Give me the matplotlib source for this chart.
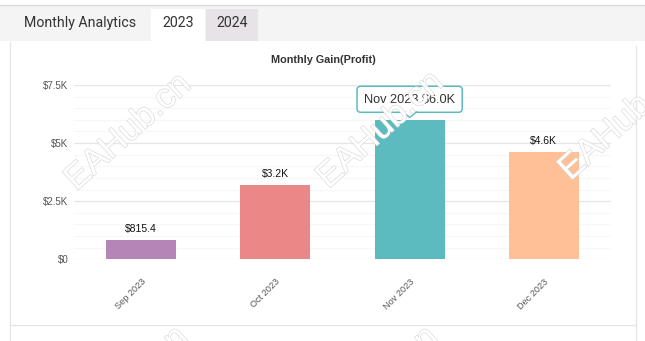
import matplotlib
matplotlib.use("Agg")
import matplotlib.pyplot as plt
import matplotlib.patheffects as pe
from matplotlib.patches import Rectangle, Polygon
from matplotlib.lines import Line2D
from matplotlib.transforms import ScaledTranslation

months = ["Sep 2023", "Oct 2023", "Nov 2023", "Dec 2023"]
gains = [815.4, 3200, 6000, 4600]
value_labels = ["$815.4", "$3.2K", None, "$4.6K"]
tooltip_text = "Nov 2023,$6.0K"
bar_colors = ["#b685b7", "#e98886", "#5bbbbf", "#ffc097"]
yticks = [0, 2500, 5000, 7500]
ytick_labels = ["$0", "$2.5K", "$5K", "$7.5K"]
tabs = ["Monthly Analytics", "2023", "2024"]

plt.rcParams["font.family"] = ["Liberation Sans", "DejaVu Sans"]

W, H = 645, 341
fig = plt.figure(figsize=(W / 100, H / 100), dpi=100)
fig.patch.set_facecolor("white")

def fx(px):
    return px / W

def fy(py):
    return 1 - py / H

# Tab bar
fig.patches.append(Rectangle((0, fy(41)), 1, fy(5) - fy(41), transform=fig.transFigure,
                             facecolor="#f4f4f4", edgecolor="none", zorder=0))
fig.lines.append(Line2D([0, 1], [fy(4.5), fy(4.5)], transform=fig.transFigure, color="#dcdcdc", lw=1))
fig.patches.append(Rectangle((fx(151), fy(41)), fx(205) - fx(151), fy(9) - fy(41), transform=fig.transFigure,
                             facecolor="white", edgecolor="none", zorder=1))
fig.patches.append(Rectangle((fx(206), fy(41)), fx(258) - fx(206), fy(9) - fy(41), transform=fig.transFigure,
                             facecolor="#e8e3e7", edgecolor="none", zorder=1))
fig.text(fx(24), fy(23), tabs[0], fontsize=10.2, color="#333333", va="center", ha="left", family="Roboto")
fig.text(fx(178), fy(23), tabs[1], fontsize=10.2, color="#333333", va="center", ha="center", family="Roboto")
fig.text(fx(232), fy(23), tabs[2], fontsize=10.2, color="#333333", va="center", ha="center", family="Roboto")

# Card borders
fig.lines.append(Line2D([fx(10), fx(10)], [fy(42), 0], transform=fig.transFigure, color="#e6e6e6", lw=1))
fig.lines.append(Line2D([fx(636), fx(636)], [fy(46), 0], transform=fig.transFigure, color="#e6e6e6", lw=1))
fig.lines.append(Line2D([fx(10), fx(636)], [fy(325), fy(325)], transform=fig.transFigure, color="#e6e6e6", lw=1))

# Axes
ax = fig.add_axes([fx(74), fy(259.3), fx(611) - fx(74), fy(85) - fy(259.3)])
ax.set_facecolor("none")
x = list(range(len(months)))
bars = ax.bar(x, gains, width=0.52, color=bar_colors, zorder=3)
ax.set_xlim(-0.5, len(months) - 0.5)
ax.set_ylim(0, 7500)
ax.set_yticks(yticks)
ax.set_yticklabels(ytick_labels)
ax.set_yticks([v for v in range(500, 7500, 500) if v % 2500], minor=True)
ax.grid(axis="y", which="major", color="#e6e6e6", lw=0.9, zorder=0)
ax.grid(axis="y", which="minor", color="#f7f7f7", lw=0.8, zorder=0)
ax.tick_params(axis="y", which="both", length=0, pad=4, labelsize=7, labelcolor="#555555")
ax.set_xticks(x)
ax.set_xticklabels(months, rotation=45, ha="right", rotation_mode="anchor")
ax.tick_params(axis="x", length=0, pad=13, labelsize=6.6, labelcolor="#555555")
for s in ax.spines.values():
    s.set_visible(False)

for xi, g, lab in zip(x, gains, value_labels):
    if lab:
        ax.annotate(lab, (xi, g), xytext=(0, 4.5), textcoords="offset points", ha="center", va="bottom",
                    fontsize=7.5, color="#111111")

fig.text(fx(323), fy(60), "Monthly Gain(Profit)", fontsize=7.8, fontweight="bold", color="#333333",
         ha="center", va="center")

# Tooltip for Nov
ti = months.index("Nov 2023")
ax.annotate(tooltip_text, (ti, gains[ti]), xytext=(0, 10.5), textcoords="offset points",
            ha="center", va="bottom", fontsize=9.2, color="#333333",
            bbox=dict(boxstyle="round,pad=0.55,rounding_size=0.3", fc="white", ec="#5bbbbf", lw=1.1),
            zorder=6)
ptr = fig.dpi_scale_trans + ScaledTranslation(ti, gains[ti], ax.transData)
tip = [(-5 / 72, 5.6 / 72), (0, 1.8 / 72), (5 / 72, 5.6 / 72)]
ax.add_patch(Polygon(tip + [(0, 6.6 / 72)], closed=True, transform=ptr, fc="white", ec="none", zorder=7,
                     clip_on=False))
ax.add_line(Line2D([p[0] for p in tip], [p[1] for p in tip], transform=ptr, color="#5bbbbf", lw=1.0,
                   zorder=8, clip_on=False))

# Watermarks
wm_style = dict(fontsize=25, color="white", rotation=42, ha="center", va="center",
                path_effects=[pe.withStroke(linewidth=0.9, foreground="#d8d8d8")], zorder=10)
fig.text(fx(128), fy(132), "EAHub.cn", **wm_style)
fig.text(fx(380), fy(130), "EAHub.cn", **wm_style)
fig.text(fx(622), fy(122), "EAHub.cn", **wm_style)
fig.text(fx(125), fy(385), "EAHub.cn", **wm_style)
fig.text(fx(375), fy(385), "EAHub.cn", **wm_style)

fig.savefig("out.png", dpi=100, facecolor="white")
